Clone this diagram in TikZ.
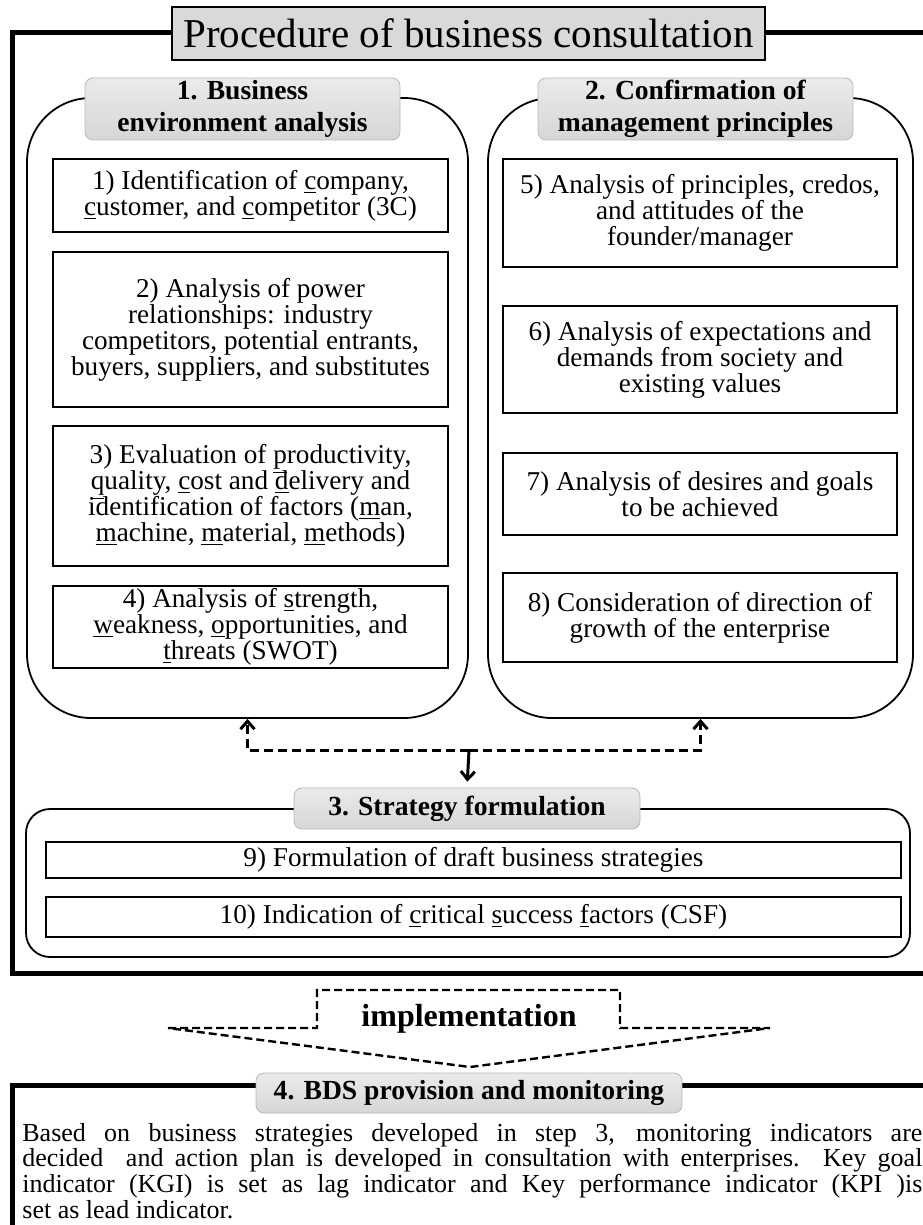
\documentclass[tikz,border=0pt]{standalone}
\usepackage{fontspec}
\setmainfont{Liberation Serif}
\usetikzlibrary{arrows.meta}
\newcommand{\cellbox}[7]{ \node[#2, minimum width={(#5-#3)*0.5pt}, minimum height={(#6-#4)*0.5pt}] (#1) at ({(#3+#5)/2},{(#4+#6)/2}) {#7};}
\newcommand{\ukey}[1]{\smash{\underline{#1}}}

\tikzset{
  taskbox/.style={draw, line width=0.8pt, fill=white, inner sep=0pt, align=center, font=\fontsize{13.6}{13}\selectfont},
  phasebox/.style={draw, line width=0.9pt, rounded corners=32pt, inner sep=0pt},
  headbox/.style={draw=gray!55, top color=gray!16, bottom color=gray!32, rounded corners=4pt, inner sep=0pt, align=center, font=\bfseries\fontsize{13.8}{16}\selectfont},
  titlebox/.style={draw, line width=1pt, fill=gray!30, inner sep=0pt, font=\fontsize{20.5}{24}\selectfont},
  framebox/.style={line width=2.5pt},
  dasharrow/.style={line width=1.5pt, dash pattern=on 4.5pt off 2.5pt, -{Straight Barb[length=4pt,width=7pt]}},
  implline/.style={line width=1.2pt, dash pattern=on 4pt off 2pt},
}

\begin{document}
\begin{tikzpicture}[x=0.5pt, y=-0.5pt]
        \useasboundingbox (0,0) rectangle (922,1225);

        % outer frame
        \draw[framebox] (950,33) -- (12,33) -- (12,973) -- (950,973);
        \cellbox{title}{titlebox}{172}{7}{765}{60}{Procedure of business consultation}

        % phases 1 and 2
        \cellbox{env}{phasebox}{27}{98}{468}{718}{}
        \cellbox{mgmt}{phasebox}{488}{98}{913}{718}{}
        \cellbox{envhead}{headbox}{85}{78}{400}{140}{1. Business\\ environment analysis}
        \cellbox{mgmthead}{headbox}{538}{78}{853}{140}{2. Confirmation of\\ management principles}

        \cellbox{t1}{taskbox}{53}{159}{448}{232}{1) Identification of \ukey{c}ompany,\\ \ukey{c}ustomer, and \ukey{c}ompetitor (3C)}
        \cellbox{t2}{taskbox}{53}{252}{448}{407}{2) Analysis of power\\ relationships: industry\\ competitors, potential entrants,\\ buyers, suppliers, and substitutes}
        \cellbox{t3}{taskbox}{53}{426}{448}{566}{3) Evaluation of \ukey{p}roductivity,\\ \ukey{q}uality, \ukey{c}ost and \ukey{d}elivery and\\ identification of factors (\ukey{m}an,\\ \ukey{m}achine, \ukey{m}aterial, \ukey{m}ethods)}
        \cellbox{t4}{taskbox}{53}{586}{448}{668}{4) Analysis of \ukey{s}trength,\\ \ukey{w}eakness, \ukey{o}pportunities, and\\ \ukey{t}hreats (SWOT)}

        \cellbox{t5}{taskbox}{503}{159}{897}{267}{5) Analysis of principles, credos,\\ and attitudes of the\\ founder/manager}
        \cellbox{t6}{taskbox}{503}{306}{897}{413}{6) Analysis of expectations and\\ demands from society and\\ existing values}
        \cellbox{t7}{taskbox}{503}{453}{897}{535}{7) Analysis of desires and goals\\ to be achieved}
        \cellbox{t8}{taskbox}{503}{573}{897}{662}{8) Consideration of direction of\\ growth of the enterprise}

        % phase 3
        \cellbox{strat}{phasebox, rounded corners=12pt}{26}{809}{910}{957}{}
        \cellbox{strathead}{headbox}{294}{788}{640}{829}{3. Strategy formulation}
        \cellbox{t9}{taskbox}{46}{842}{901}{878}{9) Formulation of draft business strategies}
        \cellbox{t10}{taskbox}{46}{897}{901}{937}{10) Indication of \ukey{c}ritical \ukey{s}uccess \ukey{f}actors (CSF)}

        % feedback between phases
        \coordinate (mid) at (469,750);
        \draw[dasharrow] (mid) -| (env.south);
        \draw[dasharrow] (mid) -| (mgmt.south);
        \draw[line width=1.5pt, -{Straight Barb[length=4pt,width=7pt]}, shorten >=3pt] (mid) -- (strathead.north);

        % implementation
        \draw[implline] (168,1028) -- (317,1028) -- (317,990) -- (620,990) -- (620,1028) -- (770,1028) -- (470,1067) -- cycle;
        \node[font=\bfseries\fontsize{16}{18}\selectfont] (impl) at (469,1019) {implementation};

        % phase 4
        \draw[framebox] (12,1240) -- (12,1085) -- (950,1085);
        \cellbox{bdshead}{headbox}{256}{1073}{682}{1113}{4. BDS provision and monitoring}
        \node[anchor=base west, inner sep=0pt, text width=450pt, align=justify, font=\fontsize{13}{11.2}\selectfont] (bdstext) at (22,1141)
          {Based on business strategies developed in step 3, monitoring indicators are\linebreak
           decided\ \ and action plan is developed in consultation with enterprises. Key goal\linebreak
           indicator (KGI) is set as lag indicator and Key performance indicator (KPI )is\linebreak
           set as lead indicator.};
\end{tikzpicture}
\end{document}
